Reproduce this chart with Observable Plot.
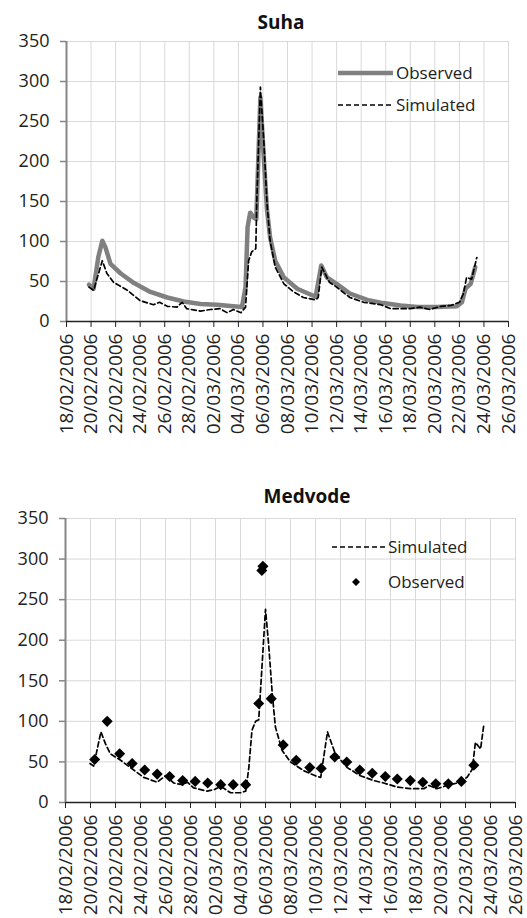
<!DOCTYPE html>
<html>
<head>
<meta charset="utf-8">
<script src="https://cdn.jsdelivr.net/npm/d3@7"></script>
<script src="https://cdn.jsdelivr.net/npm/@observablehq/plot@0.6"></script>
<style>
  html, body { margin: 0; padding: 0; background: #fff; }
  #wrap { position: relative; width: 527px; height: 918px; background: #fff; font-family: "Open Sans", sans-serif; color: #222; overflow: hidden; }
  .abs { position: absolute; }
  .title { position: absolute; font-weight: bold; font-size: 19px; line-height: 24px; transform: translateX(-50%); white-space: nowrap; color: #111; }
  .leg { position: absolute; font-size: 17px; line-height: 22px; white-space: nowrap; color: #222; }
</style>
</head>
<body>
<div id="wrap">
  <div id="c1" class="abs" style="left:0;top:0"></div>
  <div id="c2" class="abs" style="left:0;top:460px"></div>
  <div class="title" style="left:281px;top:10px">Suha</div>
  <div class="title" style="left:307px;top:484px">Medvode</div>

  <svg class="abs" style="left:336px;top:63px" width="60" height="20"><line x1="2" x2="57" y1="10" y2="10" stroke="#808080" stroke-width="4.5"/></svg>
  <div class="leg" style="left:396px;top:62px">Observed</div>
  <svg class="abs" style="left:336px;top:95px" width="60" height="20"><line x1="2" x2="57" y1="10" y2="10" stroke="#000" stroke-width="1.7" stroke-dasharray="5,3"/></svg>
  <div class="leg" style="left:396px;top:94px">Simulated</div>

  <svg class="abs" style="left:330px;top:537px" width="60" height="20"><line x1="2" x2="57" y1="10" y2="10" stroke="#000" stroke-width="1.7" stroke-dasharray="5,3"/></svg>
  <div class="leg" style="left:388px;top:536px">Simulated</div>
  <svg class="abs" style="left:346px;top:572px" width="20" height="20"><path d="M10,6 L14,10 L10,14 L6,10 Z" fill="#000"/></svg>
  <div class="leg" style="left:388px;top:571px">Observed</div>
</div>
<script>
// ---------- data ----------
const tickDates = ["2006-02-18","2006-02-20","2006-02-22","2006-02-24","2006-02-26","2006-02-28",
  "2006-03-02","2006-03-04","2006-03-06","2006-03-08","2006-03-10","2006-03-12","2006-03-14",
  "2006-03-16","2006-03-18","2006-03-20","2006-03-22","2006-03-24","2006-03-26"];
const yTicks = [0, 50, 100, 150, 200, 250, 300, 350];

// Suha observed (hourly timestamps, m3/s)
const suhaObsTime = ["2006-02-19T20","2006-02-20T05","2006-02-20T14","2006-02-20T22","2006-02-21T04","2006-02-21T14",
  "2006-02-22T10","2006-02-23T12","2006-02-24T20","2006-02-26T05","2006-02-27T13","2006-02-28T22","2006-03-02T06",
  "2006-03-03T14","2006-03-04T07","2006-03-04T14","2006-03-04T18","2006-03-04T23","2006-03-05T06","2006-03-05T11",
  "2006-03-05T19","2006-03-06T02","2006-03-06T08","2006-03-06T14","2006-03-07T00","2006-03-07T17","2006-03-08T19",
  "2006-03-10T07","2006-03-10T18","2006-03-11T05","2006-03-12T00","2006-03-13T02","2006-03-14T12","2006-03-15T19",
  "2006-03-17T05","2006-03-18T14","2006-03-20T05","2006-03-21T19","2006-03-22T05","2006-03-22T12","2006-03-22T22",
  "2006-03-23T07"];
const suhaObsValue = [46,41,80,101,93,72,60,48,37,30,25,22,21,19,18,43,118,136,130,128,
  280,201,139,105,76,55,41,31,70,55,47,35,27,23,20,18,18,19,24,41,47,68];

// Suha simulated
const suhaSimTime = ["2006-02-19T20","2006-02-20T05","2006-02-20T22","2006-02-21T07","2006-02-21T20","2006-02-22T23",
  "2006-02-24T00","2006-02-25T02","2006-02-25T14","2006-02-26T05","2006-02-27T00","2006-02-27T10","2006-02-27T19",
  "2006-02-28T22","2006-03-01T17","2006-03-02T12","2006-03-03T02","2006-03-03T14","2006-03-04T05","2006-03-04T14",
  "2006-03-04T20","2006-03-05T02","2006-03-05T10","2006-03-05T12","2006-03-05T19","2006-03-06T02","2006-03-06T08",
  "2006-03-06T14","2006-03-07T00","2006-03-07T17","2006-03-08T12","2006-03-09T07","2006-03-10T07","2006-03-10T12",
  "2006-03-10T19","2006-03-11T10","2006-03-12T00","2006-03-13T02","2006-03-14T05","2006-03-15T14","2006-03-16T10",
  "2006-03-17T05","2006-03-18T00","2006-03-18T19","2006-03-19T14","2006-03-20T12","2006-03-21T07","2006-03-22T00",
  "2006-03-22T08","2006-03-22T14","2006-03-23T00","2006-03-23T10"];
const suhaSimValue = [43,39,76,60,49,39,26,21,24,19,18,24,16,13,15,16,11,15,11,18,
  76,87,91,151,293,222,147,101,68,47,37,30,27,30,68,49,43,30,24,21,16,16,16,18,15,19,20,24,
  35,55,53,80];

// Medvode simulated
const medSimTime = ["2006-02-19T23","2006-02-20T06","2006-02-20T20","2006-02-21T05","2006-02-21T14","2006-02-22T10",
  "2006-02-23T11","2006-02-24T06","2006-02-25T08","2006-02-26T00","2006-02-26T16","2006-02-27T08","2006-02-27T18",
  "2006-02-28T06","2006-03-01T08","2006-03-01T22","2006-03-02T10","2006-03-03T05","2006-03-04T00","2006-03-04T10",
  "2006-03-04T16","2006-03-04T22","2006-03-05T05","2006-03-05T11","2006-03-06T00","2006-03-06T06","2006-03-06T13",
  "2006-03-06T19","2006-03-07T08","2006-03-08T00","2006-03-09T02","2006-03-10T03","2006-03-10T10","2006-03-10T23",
  "2006-03-11T14","2006-03-12T13","2006-03-13T14","2006-03-14T16","2006-03-15T11","2006-03-16T13","2006-03-17T14",
  "2006-03-18T16","2006-03-19T02","2006-03-19T17","2006-03-20T13","2006-03-21T08","2006-03-22T03","2006-03-22T13",
  "2006-03-22T19","2006-03-23T05","2006-03-23T11"];
const medSimValue = [48,45,87,72,60,52,40,31,25,33,24,22,25,18,14,16,20,12,12,14,
  43,89,100,102,238,195,134,93,64,50,39,32,31,87,60,43,33,27,24,19,17,17,21,17,21,24,31,41,
  74,66,95];

// Medvode observed (points)
const medObsTime = ["2006-02-20T08","2006-02-21T08","2006-02-22T08","2006-02-23T08","2006-02-24T08","2006-02-25T08",
  "2006-02-26T08","2006-02-27T09","2006-02-28T09","2006-03-01T09","2006-03-02T10","2006-03-03T10","2006-03-04T10",
  "2006-03-05T11","2006-03-05T17","2006-03-05T19","2006-03-06T11","2006-03-07T10","2006-03-08T11","2006-03-09T13",
  "2006-03-10T11","2006-03-11T13","2006-03-12T12","2006-03-13T13","2006-03-14T13","2006-03-15T14","2006-03-16T13",
  "2006-03-17T14","2006-03-18T14","2006-03-19T15","2006-03-20T15","2006-03-21T16","2006-03-22T16"];
const medObsValue = [53,100,60,48,40,35,32,27,26,24,22,22,22,122,286,291,128,71,52,43,42,56,50,40,36,32,29,27,25,23,23,26,46];

// ---------- build ----------
const parseT = d3.utcParse("%Y-%m-%dT%H");
const parseD = d3.utcParse("%Y-%m-%d");
const ticks = tickDates.map(parseD);
const xDomain = [ticks[0], ticks[ticks.length - 1]];
const fmt = d3.utcFormat("%d/%m/%Y");
const zip = (ts, vs) => ts.map((t, i) => ({date: parseT(t), value: vs[i]}));

const suhaObs = zip(suhaObsTime, suhaObsValue);
const suhaSim = zip(suhaSimTime, suhaSimValue);
const medSim = zip(medSimTime, medSimValue);
const medObs = zip(medObsTime, medObsValue);

function frame(extra, dims) {
  return Plot.plot({
    width: 527,
    height: dims.height,
    marginTop: dims.top,
    marginBottom: dims.bottom,
    marginLeft: dims.left,
    marginRight: dims.right,
    style: {fontFamily: "'Open Sans', sans-serif", fontSize: "18px", color: "#222", background: "transparent", overflow: "visible"},
    x: {type: "utc", domain: xDomain},
    y: {domain: [0, 350]},
    marks: [
      Plot.gridX(ticks, {stroke: "#d9d9d9", strokeOpacity: 1, strokeWidth: 1}),
      Plot.gridY(yTicks, {stroke: "#d9d9d9", strokeOpacity: 1, strokeWidth: 1}),
      Plot.ruleX([xDomain[0]], {stroke: "#868686", strokeWidth: 2}),
      Plot.axisY({ticks: yTicks, tickSize: 6, tickPadding: 11, stroke: "#868686", strokeWidth: 1.5, fill: "#222", fontSize: 18, label: null}),
      ...extra,
      Plot.ruleY([0], {stroke: "#222", strokeWidth: 1.5}),
      Plot.axisX({ticks: ticks, tickFormat: fmt, tickRotate: -90, tickSize: 6, tickPadding: 6, stroke: "#222", fill: "#222", fontSize: 19, label: null})
    ]
  });
}

const c1 = frame([
  Plot.line(suhaObs, {x: "date", y: "value", stroke: "#808080", strokeWidth: 4.5, strokeLinejoin: "round"}),
  Plot.line(suhaSim, {x: "date", y: "value", stroke: "#000", strokeWidth: 1.7, strokeDasharray: "5,3"})
], {height: 450, top: 41, bottom: 129, left: 66, right: 19});
document.getElementById("c1").appendChild(c1);

const c2 = frame([
  Plot.line(medSim, {x: "date", y: "value", stroke: "#000", strokeWidth: 1.7, strokeDasharray: "5,3"}),
  Plot.dot(medObs, {x: "date", y: "value", symbol: "diamond2", r: 5, fill: "#000", stroke: "none"})
], {height: 458, top: 58, bottom: 116, left: 65, right: 12});
document.getElementById("c2").appendChild(c2);
</script>
</body>
</html>
